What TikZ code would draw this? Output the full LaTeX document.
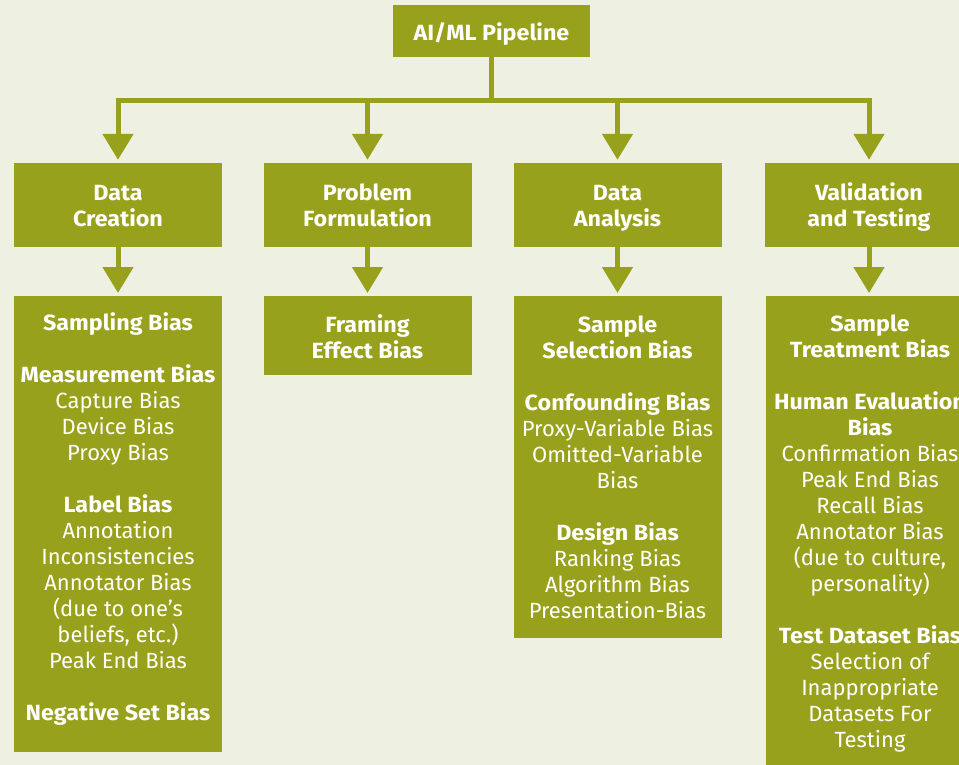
\documentclass[tikz,border=0pt]{standalone}
\usepackage{fontspec}
\setmainfont{Fira Sans}[BoldFeatures={FakeStretch=1.06}]
\usetikzlibrary{arrows.meta}
\definecolor{pagebg}{HTML}{EEF0E2}
\definecolor{olive}{HTML}{98A11C}
% invisible rules that fix the extent of the stage captions
\newcommand\captop{\rule{0pt}{23pt}}
\newcommand\roottop{\rule{0pt}{26pt}}
\newcommand\capbot{\rule[-6pt]{0pt}{0pt}}
\begin{document}
\begin{tikzpicture}[x=1pt,y=-1pt,
  stage/.style={fill=olive, text=white, font=\bfseries\fontsize{22}{26}\selectfont,
    align=center, minimum width=208pt, minimum height=84pt, inner sep=0pt},
  panel/.style={fill=olive, minimum width=208pt, inner sep=0pt, anchor=north},
  biaslist/.style={text=white, font=\fontsize{22}{26}\selectfont, align=center,
    anchor=north, inner sep=0pt},
  link/.style={draw=olive, line width=5pt},
  flow/.style={link, -{Triangle[width=30pt,length=26pt]}, shorten >=3pt}
]
\fill[pagebg] (0,0) rectangle (959,765);
\useasboundingbox (0,0) rectangle (959,765);
\clip (0,0) rectangle (959,765);

% root and pipeline stages
\node[stage, minimum width=197pt, minimum height=52pt] (root) at (491.5,31) {\roottop AI/ML Pipeline\capbot};
\node[stage] (dc) at (118,205) {\captop Data\\Creation\capbot};
\node[stage] (pf) at (367.5,205) {\captop Problem\\Formulation\capbot};
\node[stage] (da) at (617.5,205) {\captop Data\\Analysis\capbot};
\node[stage] (vt) at (869,205) {\captop Validation\\and Testing\capbot};

% branching connector
\coordinate (bar) at (491.5,101);
\draw[link] (root.south) -- (bar);
\draw[link, line cap=rect] (bar -| dc.north) -- (bar -| vt.north);
\foreach \s in {dc,pf,da,vt}
  \draw[flow] (bar -| \s.north) -- (\s.north);

% bias panels
\node[panel, minimum height=456pt] (dcl) at (118,296) {};
\node[panel, minimum height=79pt] (pfl) at (367.5,296) {};
\node[panel, minimum height=342pt] (dal) at (617.5,296) {};
\node[panel, minimum height=480pt] (vtl) at (870,296) {};

\draw[flow] (dc.south) -- (dc.south |- dcl.north);
\draw[flow] (pf.south) -- (pf.south |- pfl.north);
\draw[flow] (da.south) -- (da.south |- dal.north);
\draw[flow] (vt.south) -- (vt.south |- vtl.north);

% bias lists
\node[biaslist] (dct) at (118,312.5) {\textbf{Sampling Bias}\\[26pt]
  \textbf{Measurement Bias}\\ Capture Bias\\ Device Bias\\ Proxy Bias\\[26pt]
  \textbf{Label Bias}\\ Annotation\\ Inconsistencies\\ Annotator Bias\\
  (due to one’s\\ beliefs, etc.)\\ Peak End Bias\\[26pt]
  \textbf{Negative Set Bias}};
\node[biaslist] (pft) at (367.5,314) {\textbf{Framing}\\ \textbf{Effect Bias}};
\node[biaslist] (dat) at (617.5,315.5) {\textbf{Sample}\\ \textbf{Selection Bias}\\[26pt]
  \textbf{Confounding Bias}\\ Proxy-Variable Bias\\ Omitted-Variable\\ Bias\\[26pt]
  \textbf{Design Bias}\\ Ranking Bias\\ Algorithm Bias\\ Presentation-Bias};
\node[biaslist] (vtt) at (870,315) {\textbf{Sample}\\ \textbf{Treatment Bias}\\[26pt]
  \textbf{Human Evaluation}\\ \textbf{Bias}\\ Confirmation Bias\\ Peak End Bias\\
  Recall Bias\\ Annotator Bias\\ (due to culture,\\ personality)\\[26pt]
  \textbf{Test Dataset Bias}\\ Selection of\\ Inappropriate\\ Datasets For\\ Testing};
\end{tikzpicture}
\end{document}
